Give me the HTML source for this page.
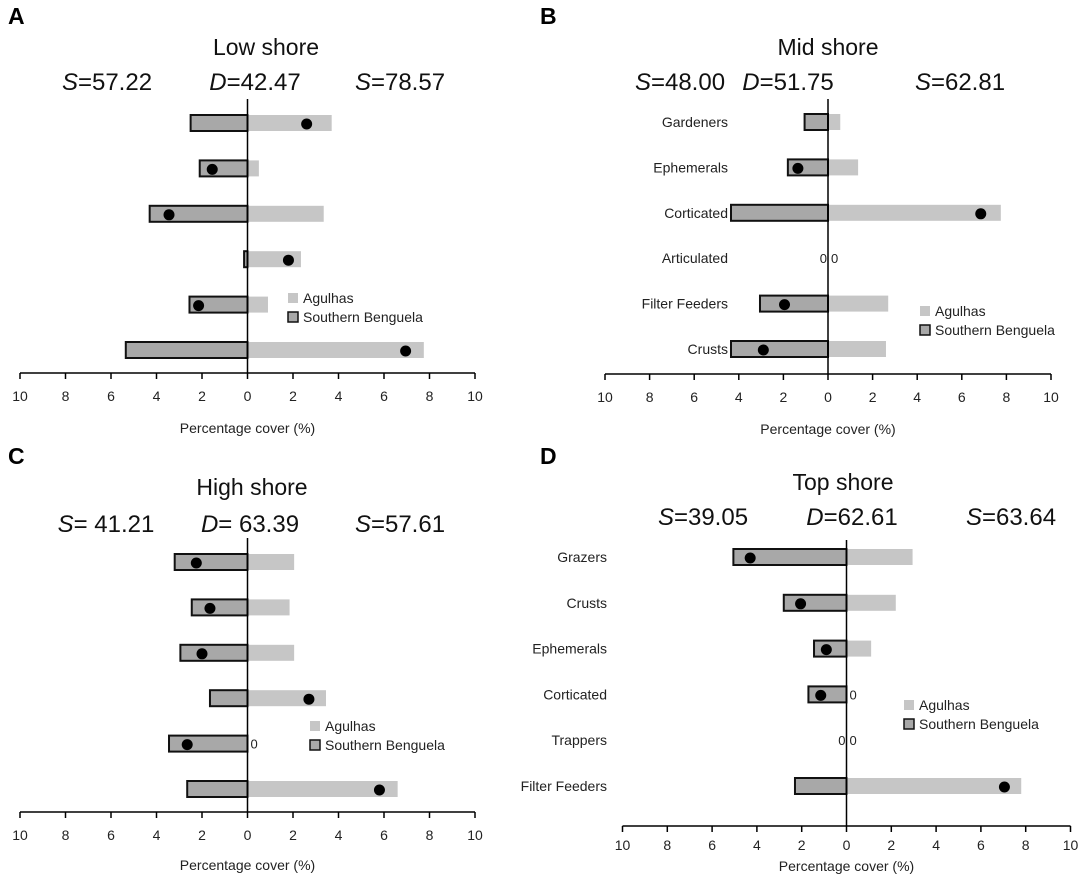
<!DOCTYPE html>
<html><head><meta charset="utf-8">
<style>
body{margin:0;background:#fff;width:1087px;height:876px;overflow:hidden}
svg{display:block;font-family:"Liberation Sans","DejaVu Sans",sans-serif}
</style></head>
<body>
<svg id="chart" width="1087" height="876" viewBox="0 0 1087 876"></svg>
<script>
// Panel A - Low shore
const aCats = ["", "", "", "", "", ""];
const aSB = [2.5, 2.1, 4.3, 0.15, 2.55, 5.35];
const aAg = [3.7, 0.5, 3.35, 2.35, 0.9, 7.75];
const aDot = [2.6, -1.55, -3.45, 1.8, -2.15, 6.95];
// Panel B - Mid shore
const bCats = ["Gardeners", "Ephemerals", "Corticated", "Articulated", "Filter Feeders", "Crusts"];
const bSB = [1.05, 1.8, 4.35, 0, 3.05, 4.35];
const bAg = [0.55, 1.35, 7.75, 0, 2.7, 2.6];
const bDot = [null, -1.35, 6.85, null, -1.95, -2.9];
// Panel C - High shore
const cCats = ["", "", "", "", "", ""];
const cSB = [3.2, 2.45, 2.95, 1.65, 3.45, 2.65];
const cAg = [2.05, 1.85, 2.05, 3.45, 0, 6.6];
const cDot = [-2.25, -1.65, -2.0, 2.7, -2.65, 5.8];
// Panel D - Top shore
const dCats = ["Grazers", "Crusts", "Ephemerals", "Corticated", "Trappers", "Filter Feeders"];
const dSB = [5.05, 2.8, 1.45, 1.7, 0, 2.3];
const dAg = [2.95, 2.2, 1.1, 0, 0, 7.8];
const dDot = [-4.3, -2.05, -0.9, -1.15, null, 7.05];
const tickLabels = ["10","8","6","4","2","0","2","4","6","8","10"];

const svg = document.getElementById('chart');
const NS = 'http://www.w3.org/2000/svg';
function mk(tag, attrs, parent, text){
  const e = document.createElementNS(NS, tag);
  for (const k in attrs) e.setAttribute(k, attrs[k]);
  if (text !== undefined) e.textContent = text;
  (parent || svg).appendChild(e);
  return e;
}

function panel(cfg){
  const g = mk('g', {});
  
  
  const x = v => cfg.x0 + v * cfg.unit;
  const rowY = i => cfg.yTop + i * cfg.rowStep;
  const L = mk('text', {x: cfg.lx, y: cfg.ly, 'font-size': 23, 'font-weight': 'bold'}, g, cfg.letter);
  
  
  const T = mk('text', {x: cfg.titleX, y: cfg.titleY, 'font-size': 23, 'text-anchor': 'middle', fill: '#111'}, g, cfg.title);
  
  
  cfg.stats.forEach(s => {
    const t = mk('text', {x: s[0], y: cfg.statY, 'font-size': 24, 'text-anchor': 'middle', fill: '#111'}, g);
    mk('tspan', {'font-style': 'italic'}, t, s[1]);
    mk('tspan', {}, t, s[2]);
    
    
  });
  const bh = 16;
  for (let i = 0; i < cfg.sb.length; i++) {
    const y = rowY(i);
    if (cfg.cats[i]) {
      const c = mk('text', {x: cfg.catX, y: y + 5, 'font-size': 14, 'text-anchor': 'end', fill: '#222'}, g, cfg.cats[i]);
      
      
    }
    if (cfg.ag[i] > 0) {
      const r = mk('rect', {x: x(0), y: y - bh/2, width: x(cfg.ag[i]) - x(0), height: bh, fill: '#c6c6c6'}, g);
      
      
    }
    if (cfg.sb[i] > 0) {
      const r = mk('rect', {x: x(-cfg.sb[i]), y: y - bh/2, width: x(0) - x(-cfg.sb[i]), height: bh, fill: '#a8a8a8', stroke: '#111', 'stroke-width': 2}, g);
      
      
    }
    if (cfg.sb[i] === 0) {
      const z = mk('text', {x: x(0) - 1, y: y + 5, 'font-size': 13, 'text-anchor': 'end', fill: '#222'}, g, '0');
      
      
    }
    if (cfg.ag[i] === 0) {
      const z = mk('text', {x: x(0) + 3, y: y + 5, 'font-size': 13, fill: '#222'}, g, '0');
      
      
    }
    if (cfg.dot[i] !== null) {
      const d = mk('circle', {cx: x(cfg.dot[i]), cy: y + 1, r: 5.5, fill: '#000'}, g);
      
      
    }
  }
  const zl = mk('line', {x1: x(0), x2: x(0), y1: cfg.zeroTop, y2: cfg.axisY, stroke: '#000', 'stroke-width': 1.5}, g);
  
  
  const ax = mk('line', {x1: x(-10), x2: x(10), y1: cfg.axisY, y2: cfg.axisY, stroke: '#000', 'stroke-width': 1.5}, g);
  
  
  tickLabels.forEach((lab, k) => {
    const v = -10 + 2 * k;
    const tk = mk('line', {x1: x(v), x2: x(v), y1: cfg.axisY, y2: cfg.axisY + 6, stroke: '#000', 'stroke-width': 1.5}, g);
    
    
    const tl = mk('text', {x: x(v), y: cfg.axisY + cfg.tickOff, 'font-size': 14, 'text-anchor': 'middle', fill: '#222'}, g, lab);
    
    
  });
  const at = mk('text', {x: x(0), y: cfg.axisY + cfg.titleOff, 'font-size': 14, 'text-anchor': 'middle', fill: '#222'}, g, 'Percentage cover (%)');
  
  
  const lg = mk('g', {}, g);
  
  
  mk('rect', {x: cfg.legX, y: cfg.legY - 5, width: 10, height: 10, fill: '#c6c6c6'}, lg);
  mk('text', {x: cfg.legX + 15, y: cfg.legY + 5, 'font-size': 14, fill: '#222'}, lg, 'Agulhas');
  mk('rect', {x: cfg.legX, y: cfg.legY + 14, width: 10, height: 10, fill: '#a8a8a8', stroke: '#111', 'stroke-width': 1.5}, lg);
  mk('text', {x: cfg.legX + 15, y: cfg.legY + 24, 'font-size': 14, fill: '#222'}, lg, 'Southern Benguela');
}

panel({name:'panel-a', letter:'A', lx:8, ly:24, title:'Low shore', titleX:266, titleY:55, statY:90,
  stats:[[107,'S','=57.22'],[255,'D','=42.47'],[400,'S','=78.57']],
  x0:247.5, unit:22.75, yTop:123, rowStep:45.4, zeroTop:99, axisY:373, tickOff:28, titleOff:60,
  cats:aCats, sb:aSB, ag:aAg, dot:aDot, catX:0, legX:288, legY:298});
panel({name:'panel-b', letter:'B', lx:540, ly:24, title:'Mid shore', titleX:828, titleY:55, statY:90,
  stats:[[680,'S','=48.00'],[788,'D','=51.75'],[960,'S','=62.81']],
  x0:828, unit:22.3, yTop:122, rowStep:45.4, zeroTop:99, axisY:374, tickOff:28, titleOff:60,
  cats:bCats, sb:bSB, ag:bAg, dot:bDot, catX:728, legX:920, legY:311});
panel({name:'panel-c', letter:'C', lx:8, ly:464, title:'High shore', titleX:252, titleY:495, statY:532,
  stats:[[106,'S','= 41.21'],[250,'D','= 63.39'],[400,'S','=57.61']],
  x0:247.5, unit:22.75, yTop:562, rowStep:45.4, zeroTop:538, axisY:812, tickOff:28, titleOff:58,
  cats:cCats, sb:cSB, ag:cAg, dot:cDot, catX:0, legX:310, legY:726});
panel({name:'panel-d', letter:'D', lx:540, ly:464, title:'Top shore', titleX:843, titleY:490, statY:525,
  stats:[[703,'S','=39.05'],[852,'D','=62.61'],[1011,'S','=63.64']],
  x0:846.5, unit:22.4, yTop:557, rowStep:45.8, zeroTop:540, axisY:826, tickOff:24, titleOff:45,
  cats:dCats, sb:dSB, ag:dAg, dot:dDot, catX:607, legX:904, legY:705});
</script>
</body></html>
